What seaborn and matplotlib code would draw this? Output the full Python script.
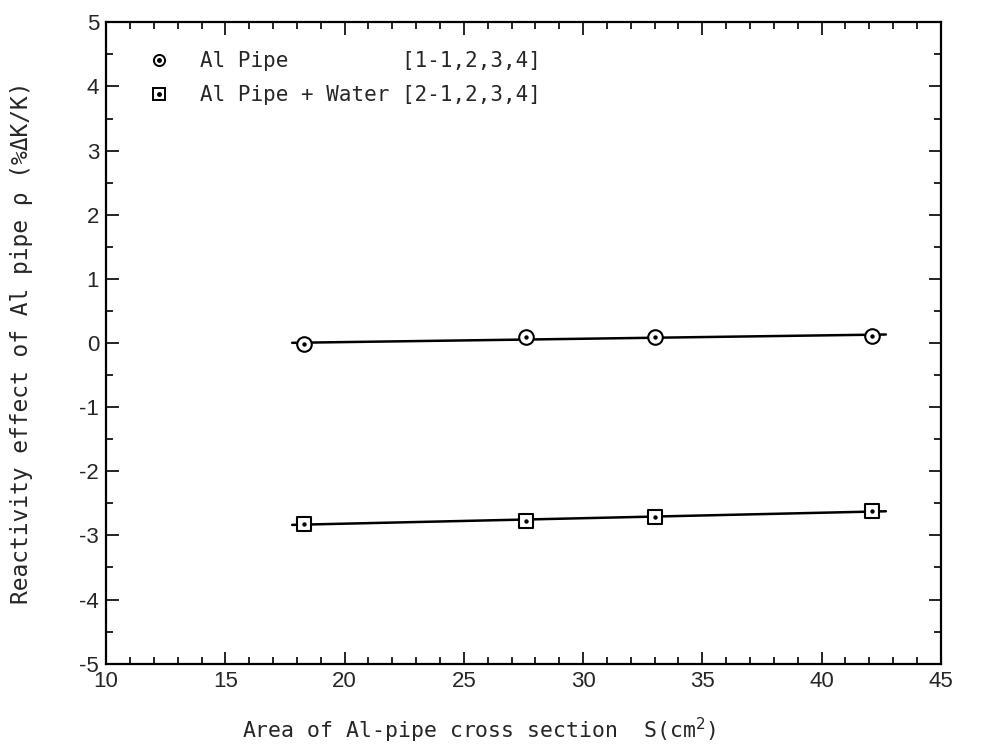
import matplotlib
matplotlib.use('Agg')

import matplotlib.pyplot as plt
from matplotlib.lines import Line2D
from matplotlib.ticker import MultipleLocator
import seaborn as sns
import numpy as np
import pandas as pd

# data
area = [18.3, 27.6, 33.0, 42.1]
rho_pipe = [-0.02, 0.09, 0.09, 0.11]
rho_pipe_water = [-2.82, -2.77, -2.71, -2.62]
fit_range = [17.8, 42.7]

labels = ['Al Pipe         [1-1,2,3,4]', 'Al Pipe + Water [2-1,2,3,4]']
x_ticks = [10, 15, 20, 25, 30, 35, 40, 45]
y_ticks = [-5, -4, -3, -2, -1, 0, 1, 2, 3, 4, 5]

df = pd.DataFrame({'S': area * 2,
                   'rho': rho_pipe + rho_pipe_water,
                   'case': [labels[0]] * 4 + [labels[1]] * 4})

sns.set_style('ticks')
plt.rcParams['font.family'] = ['DejaVu Sans Mono', 'DejaVu Sans']
plt.rcParams['axes.unicode_minus'] = False

fig = plt.figure(figsize=(9.83, 7.44), dpi=100)
ax = fig.add_axes([0.108, 0.108, 0.849, 0.862])

# least-squares lines through each series
fit_rows = []
for lab, ys in zip(labels, [rho_pipe, rho_pipe_water]):
    k, b = np.polyfit(area, ys, 1)
    for xv in fit_range:
        fit_rows.append({'S': xv, 'rho': k * xv + b, 'case': lab})
fit_df = pd.DataFrame(fit_rows)
sns.lineplot(data=fit_df, x='S', y='rho', units='case', estimator=None,
             color='black', lw=1.8, ax=ax, legend=False)

markers = {labels[0]: 'o', labels[1]: 's'}
handles = []
for lab in labels:
    sub = df[df['case'] == lab]
    sns.scatterplot(data=sub, x='S', y='rho', marker=markers[lab], s=110,
                    facecolor='white', edgecolor='black', linewidth=1.5,
                    ax=ax, zorder=3, legend=False)
    sns.scatterplot(data=sub, x='S', y='rho', marker='o', s=10,
                    color='black', linewidth=0, ax=ax, zorder=4, legend=False)
    h1 = Line2D([], [], ls='none', marker=markers[lab], ms=8, mfc='white',
                mec='black', mew=1.4)
    h2 = Line2D([], [], ls='none', marker='o', ms=2.5, color='black')
    handles.append((h1, h2))

ax.legend(handles, labels, loc='upper left', frameon=False, fontsize=15,
          handlelength=1.5, handletextpad=1.2, borderaxespad=1.0,
          labelspacing=0.65, bbox_to_anchor=(0.01, 1.0))

ax.set_xlim(10, 45)
ax.set_ylim(-5, 5)
ax.set_xticks(x_ticks)
ax.set_yticks(y_ticks)
ax.xaxis.set_minor_locator(MultipleLocator(1))
ax.yaxis.set_minor_locator(MultipleLocator(0.5))
ax.tick_params(which='both', direction='in', top=True, right=True,
               color='black', width=1.2)
ax.tick_params(which='major', length=9, labelsize=16, pad=5)
ax.tick_params(which='minor', length=5)
for lab_t in ax.get_xticklabels() + ax.get_yticklabels():
    lab_t.set_family(['Liberation Sans', 'DejaVu Sans'])
for sp in ax.spines.values():
    sp.set_linewidth(1.6)
    sp.set_color('black')

ax.set_xlabel('Area of Al-pipe cross section  S(cm$^2$)', fontsize=15.5)
ax.set_ylabel('Reactivity effect of Al pipe ρ (%ΔK/K)', fontsize=16.5)
ax.xaxis.set_label_coords(0.447, -0.082)
ax.yaxis.set_label_coords(-0.088, 0.5)

fig.savefig('out.png', dpi=100)
